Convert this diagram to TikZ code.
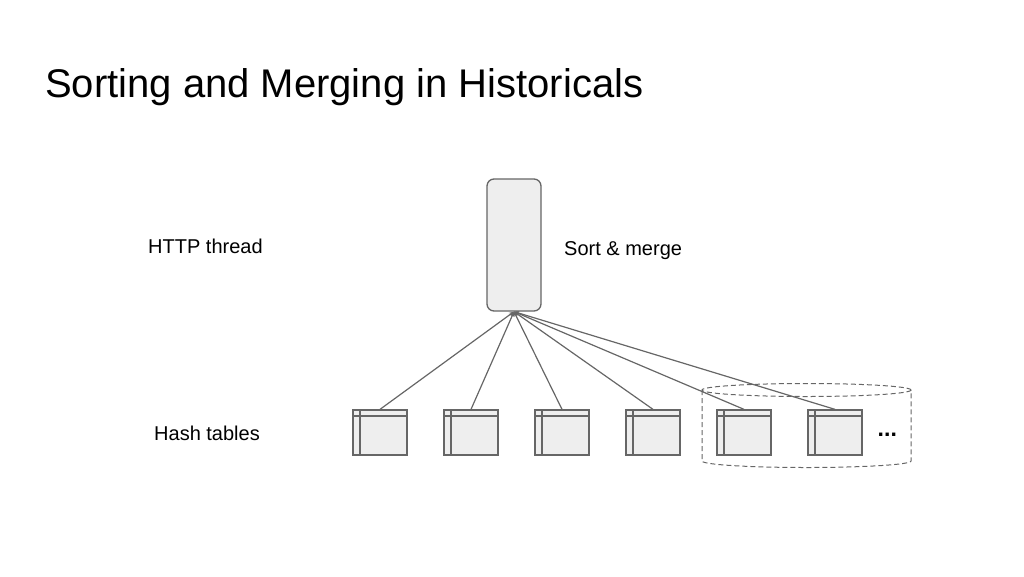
\documentclass[tikz,border=0pt]{standalone}
\usepackage{fontspec}
\setmainfont{Liberation Sans}
\usetikzlibrary{positioning,arrows.meta}
\definecolor{linegray}{HTML}{666666}
\definecolor{boxfill}{HTML}{EEEEEE}
\tikzset{
  sortbox/.style={draw=linegray,fill=boxfill,rounded corners=7pt,minimum width=54pt,
    minimum height=132pt,line width=1.3pt,inner sep=0pt},
  htable/.style={draw=linegray,fill=boxfill,minimum width=54pt,minimum height=45pt,
    line width=1.3pt,inner sep=0pt,
    path picture={\draw[linegray,line width=1.3pt]
      ([yshift=-6pt]path picture bounding box.north west) -- ([yshift=-6pt]path picture bounding box.north east)
      ([xshift=7pt]path picture bounding box.north west) -- ([xshift=7pt]path picture bounding box.south west);}},
  feed/.style={-{Stealth[length=5pt,width=4pt]},draw=linegray,line width=1.2pt},
  grp/.style={draw=linegray,line width=1pt,dash pattern=on 5pt off 3pt},
  lbl/.style={font=\fontsize{20}{24}\selectfont,anchor=base west,inner sep=0pt},
  ttl/.style={font=\fontsize{40}{48}\selectfont,anchor=base west,inner sep=0pt},
}
\begin{document}
\begin{tikzpicture}[x=1pt,y=-1pt]
  \useasboundingbox (0,0) rectangle (1024,576);
  % title
  \node[ttl] (title) at (45,97) {Sorting and Merging in Historicals};
  % row labels
  \node[lbl] (http) at (148,253) {HTTP thread};
  \node[lbl] (hash) at (154,440) {Hash tables};
  % sort & merge thread
  \node[sortbox] (sort) at (514,245) {};
  \node[lbl] (sortlbl) at (564,255) {Sort \& merge};
  % group of tables
  \draw[grp] (702,390) -- (702,461) arc[start angle=180,end angle=0,x radius=104.5,y radius=6.5]
    -- (911,390);
  \draw[grp] (806.5,390) ellipse[x radius=104.5,y radius=6.5];
  % hash tables
  \foreach \i in {0,...,5}{
    \node[htable] (t\i) at (380+91*\i,432.5) {};
    \draw[feed] (t\i.north) -- (sort.south);}
  \node[lbl,font=\fontsize{23}{24}\bfseries] (more) at (877.5,436) {...};
\end{tikzpicture}
\end{document}
